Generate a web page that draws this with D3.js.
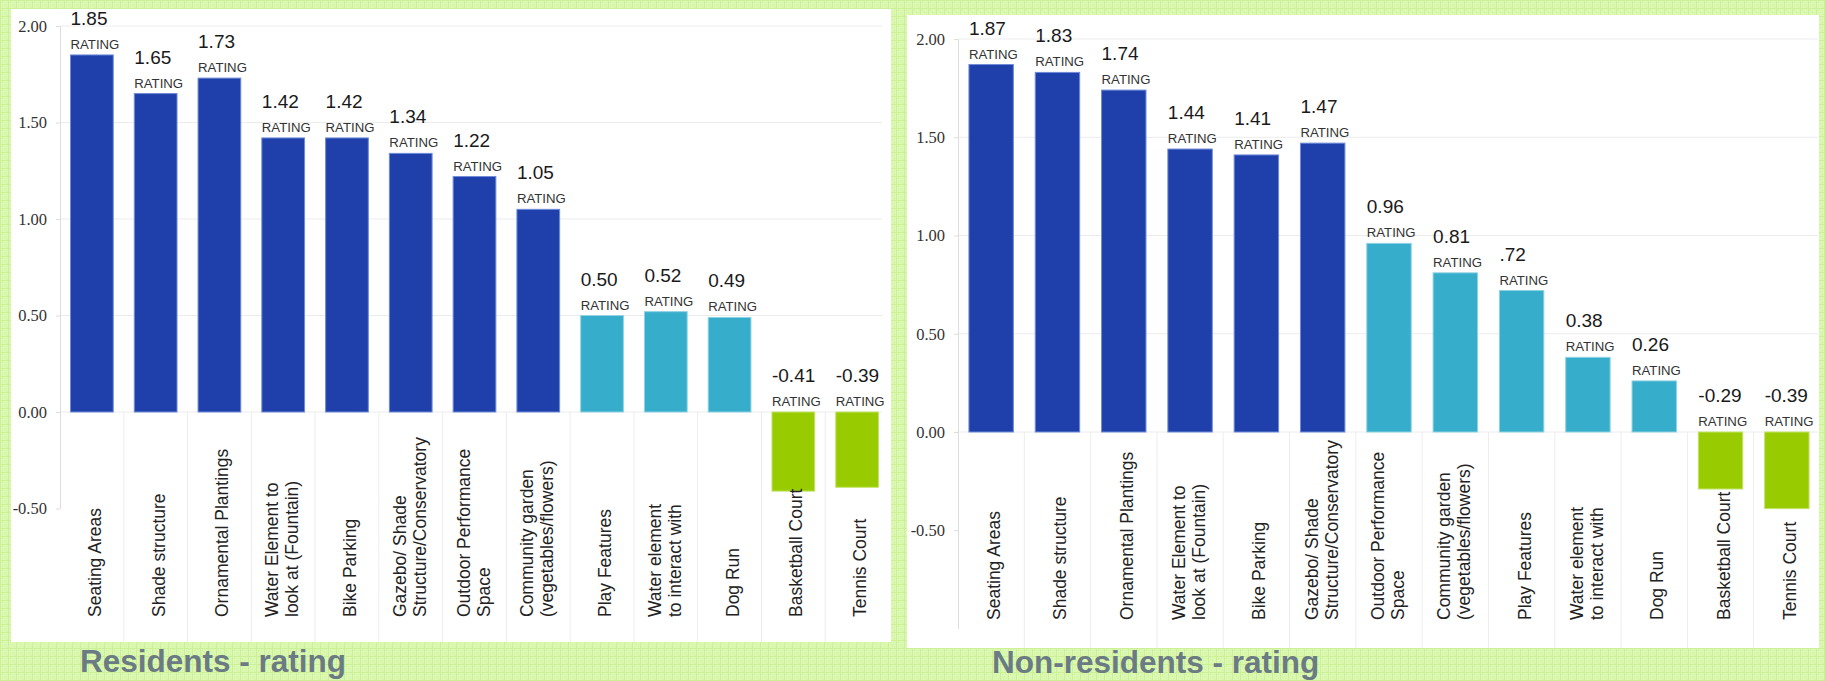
<!DOCTYPE html>
<html>
<head>
<meta charset="utf-8">
<script src="https://cdn.jsdelivr.net/npm/d3@7/dist/d3.min.js"></script>
<style>
  html, body { margin: 0; padding: 0; background: #d9f7aa; }
  svg { display: block; }
  .ytick text { font-family: "Liberation Serif", "DejaVu Serif", serif !important; }
</style>
</head>
<body>
<svg id="chart" width="1825" height="681"></svg>
<script>
// ---------- DATA ----------
const categories = [
  ["Seating Areas"],
  ["Shade structure"],
  ["Ornamental Plantings"],
  ["Water Element to", "look at (Fountain)"],
  ["Bike Parking"],
  ["Gazebo/ Shade", "Structure/Conservatory"],
  ["Outdoor Performance", "Space"],
  ["Community garden", "(vegetables/flowers)"],
  ["Play Features"],
  ["Water element", "to interact with"],
  ["Dog Run"],
  ["Basketball Court"],
  ["Tennis Court"]
];
const residentValues = [1.85, 1.65, 1.73, 1.42, 1.42, 1.34, 1.22, 1.05, 0.50, 0.52, 0.49, -0.41, -0.39];
const residentLabels = ["1.85", "1.65", "1.73", "1.42", "1.42", "1.34", "1.22", "1.05", "0.50", "0.52", "0.49", "-0.41", "-0.39"];
const residentGroups = ["high", "high", "high", "high", "high", "high", "high", "high", "mid", "mid", "mid", "low", "low"];

const nonResidentValues = [1.87, 1.83, 1.74, 1.44, 1.41, 1.47, 0.96, 0.81, 0.72, 0.38, 0.26, -0.29, -0.39];
const nonResidentLabels = ["1.87", "1.83", "1.74", "1.44", "1.41", "1.47", "0.96", "0.81", ".72", "0.38", "0.26", "-0.29", "-0.39"];
const nonResidentGroups = ["high", "high", "high", "high", "high", "high", "mid", "mid", "mid", "mid", "mid", "low", "low"];

const yTickValues = [2.0, 1.5, 1.0, 0.5, 0.0, -0.5];
const barLabelWord = "RATING";
const panelTitles = ["Residents - rating", "Non-residents - rating"];

// ---------- STYLE ----------
const groupColor = { high: "#1f40aa", mid: "#36adca", low: "#99cc00" };
const groupStroke = { high: "#6f8bd8", mid: "#8fd3e3", low: "#c2e36a" };

const svg = d3.select("#chart");

// background pattern
const defs = svg.append("defs");
const pat = defs.append("pattern").attr("id", "bg").attr("width", 8).attr("height", 8)
  .attr("patternUnits", "userSpaceOnUse");
pat.append("rect").attr("width", 8).attr("height", 8).attr("fill", "#dbf8b0");
pat.append("path").attr("d", "M0 0.5H8 M0.5 0V8").attr("stroke", "#cbf095").attr("stroke-width", 1);
pat.append("path").attr("d", "M4 4.5h1 M2 2.5h1 M6 6.5h1").attr("stroke", "#d0f2a0").attr("stroke-width", 1);
svg.append("rect").attr("width", 1825).attr("height", 681).attr("fill", "url(#bg)");

const panels = [
  { values: residentValues, labels: residentLabels, groups: residentGroups, title: panelTitles[0],
    box: [11, 9, 891, 642], xr: [60, 889], yDomain: [-0.5, 2.0], yr: [508.5, 26],
    gridRight: 882, catBase: 617, titleX: 80, titleY: 672 },
  { values: nonResidentValues, labels: nonResidentLabels, groups: nonResidentGroups, title: panelTitles[1],
    box: [907, 15, 1819, 648], xr: [958, 1820], yDomain: [-1.0, 2.0], yr: [628.5, 39],
    gridRight: 1818, catBase: 620, titleX: 992, titleY: 673 }
];

panels.forEach(p => {
  const g = svg.append("g");
  g.append("rect").attr("x", p.box[0]).attr("y", p.box[1])
    .attr("width", p.box[2] - p.box[0]).attr("height", p.box[3] - p.box[1]).attr("fill", "#ffffff");

  const idx = d3.range(categories.length);
  const x = d3.scaleBand().domain(idx).range(p.xr).paddingInner(0.33).paddingOuter(0.165);
  const y = d3.scaleLinear().domain(p.yDomain).range(p.yr);
  const step = x.step();

  // gridlines (non-negative ticks)
  g.append("g").selectAll("line").data(yTickValues.filter(v => v >= 0)).join("line")
    .attr("x1", p.xr[0]).attr("x2", p.gridRight)
    .attr("y1", d => y(d)).attr("y2", d => y(d))
    .attr("stroke", "#ececec").attr("stroke-width", 1);

  // category separators
  g.append("g").selectAll("line").data(idx.slice(1)).join("line")
    .attr("x1", d => x(d) - step * 0.165).attr("x2", d => x(d) - step * 0.165)
    .attr("y1", y(0)).attr("y2", p.box[3])
    .attr("stroke", "#ededed").attr("stroke-width", 1);

  // axis
  const axis = d3.axisLeft(y).tickValues(yTickValues).tickFormat(d => d.toFixed(2))
    .tickSize(4).tickSizeOuter(0).tickPadding(9);
  const ag = g.append("g").attr("class", "ytick").attr("transform", `translate(${p.xr[0]},0)`).call(axis);
  ag.attr("font-family", null);
  ag.select(".domain").attr("stroke", "#dddddd");
  ag.selectAll(".tick line").attr("stroke", "#dddddd");
  ag.selectAll(".tick text")
    .style("font-family", "'Liberation Serif', 'DejaVu Serif', serif")
    .attr("font-size", 16.5).attr("fill", "#333");

  // bars
  g.append("g").selectAll("rect").data(idx).join("rect")
    .attr("x", i => x(i))
    .attr("width", x.bandwidth())
    .attr("y", i => Math.min(y(p.values[i]), y(0)))
    .attr("height", i => Math.abs(y(p.values[i]) - y(0)))
    .attr("fill", i => groupColor[p.groups[i]])
    .attr("stroke", i => groupStroke[p.groups[i]]).attr("stroke-width", 1);

  // labels
  const lab = g.append("g");
  lab.selectAll("text.val").data(idx).join("text").attr("class", "val")
    .attr("x", i => x(i))
    .attr("y", i => Math.min(y(p.values[i]), y(0)) - 30)
    .attr("font-family", "'Liberation Sans', Arial, sans-serif")
    .attr("font-size", 19).attr("fill", "#1a1a1a")
    .text(i => p.labels[i]);
  lab.selectAll("text.rat").data(idx).join("text").attr("class", "rat")
    .attr("x", i => x(i))
    .attr("y", i => Math.min(y(p.values[i]), y(0)) - 6)
    .attr("font-family", "'Liberation Sans', Arial, sans-serif")
    .attr("font-size", 13.2).attr("fill", "#333")
    .text(barLabelWord);

  // category labels (rotated)
  const cg = g.append("g");
  idx.forEach(i => {
    const lines = categories[i];
    const cx = x(i) + x.bandwidth() / 2;
    const offs = lines.length === 1 ? [9] : [-5, 15];
    lines.forEach((ln, k) => {
      const bx = cx + offs[k];
      cg.append("text")
        .attr("transform", `translate(${bx},${p.catBase}) rotate(-90)`)
        .attr("font-family", "'Liberation Sans', Arial, sans-serif")
        .attr("font-size", 17.5).attr("fill", "#222")
        .text(ln);
    });
  });

  // title
  svg.append("text").attr("x", p.titleX).attr("y", p.titleY)
    .attr("font-family", "'Liberation Sans', Arial, sans-serif")
    .attr("font-weight", "bold").attr("font-size", 31.5).attr("fill", "#6b7b84")
    .text(p.title);
});
</script>
</body>
</html>
